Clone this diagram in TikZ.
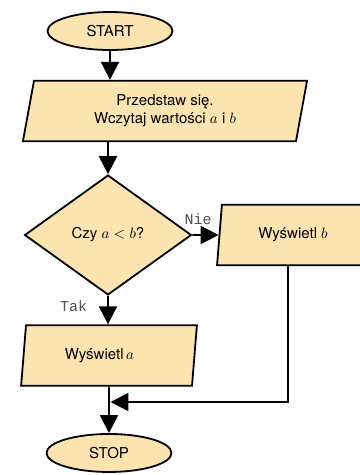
\documentclass[tikz,border=0pt]{standalone}
\usepackage{fontspec}
\setmainfont{TeX Gyre Heros}
\newfontfamily\branchfont{Liberation Mono}
\usetikzlibrary{shapes.geometric,arrows.meta}
\definecolor{boxfill}{RGB}{252,228,176}
\definecolor{branchgray}{RGB}{80,80,80}

\begin{document}
\begin{tikzpicture}[
  startstop/.style={ellipse,draw=black,line width=1.2pt,fill=boxfill,minimum width=2.93cm,minimum height=0.89cm,inner sep=0pt},
  io/.style={trapezium,trapezium left angle=71,trapezium right angle=109,trapezium stretches body,draw=black,line width=1.2pt,fill=boxfill,minimum height=1.42cm,inner sep=0pt,align=center},
  decision/.style={diamond,draw=black,line width=1.2pt,fill=boxfill,minimum width=3.91cm,minimum height=2.81cm,inner sep=0pt},
  arr/.style={line width=1.3pt,-{Triangle[length=0.42cm,width=0.42cm]}},
  branch/.style={font=\branchfont,text=branchgray}
]
\clip (0,0) rectangle (8.4375,11.133);

\node (start) at (2.578,10.406) [startstop]{START};
\node (in1) at (3.867,8.531) [io,minimum width=6.66cm]{Przedstaw się.\\Wczytaj wartości $a$ i $b$};
\node (dec) at (2.531,5.625) [decision]{Czy $a<b$?};
\node (outb) at (6.867,5.625) [io,minimum width=3.56cm]{Wyświetl $b$};
\node (outa) at (2.555,2.80) [io,minimum width=4.12cm]{Wyświetl$\,a$\hspace*{0.45cm}};
\node (stop) at (2.555,0.516) [startstop]{STOP};
\coordinate (join) at (2.59,1.711);

\draw[arr] (start.south) -- (start.south |- in1.north);
\draw[arr] (dec.north |- in1.south) -- (dec.north);
\draw[arr] (dec.east) -- (outb.west) node[branch,above=1mm,pos=0.22]{Nie};
\draw[arr] (dec.south) -- (dec.south |- outa.north) node[branch,left=3.5mm,pos=0.37]{Tak};
\draw[arr] (outa.south) -- (stop.north);
\draw[arr] ([xshift=-0.12cm]outb.south) |- (join);

\end{tikzpicture}
\end{document}
